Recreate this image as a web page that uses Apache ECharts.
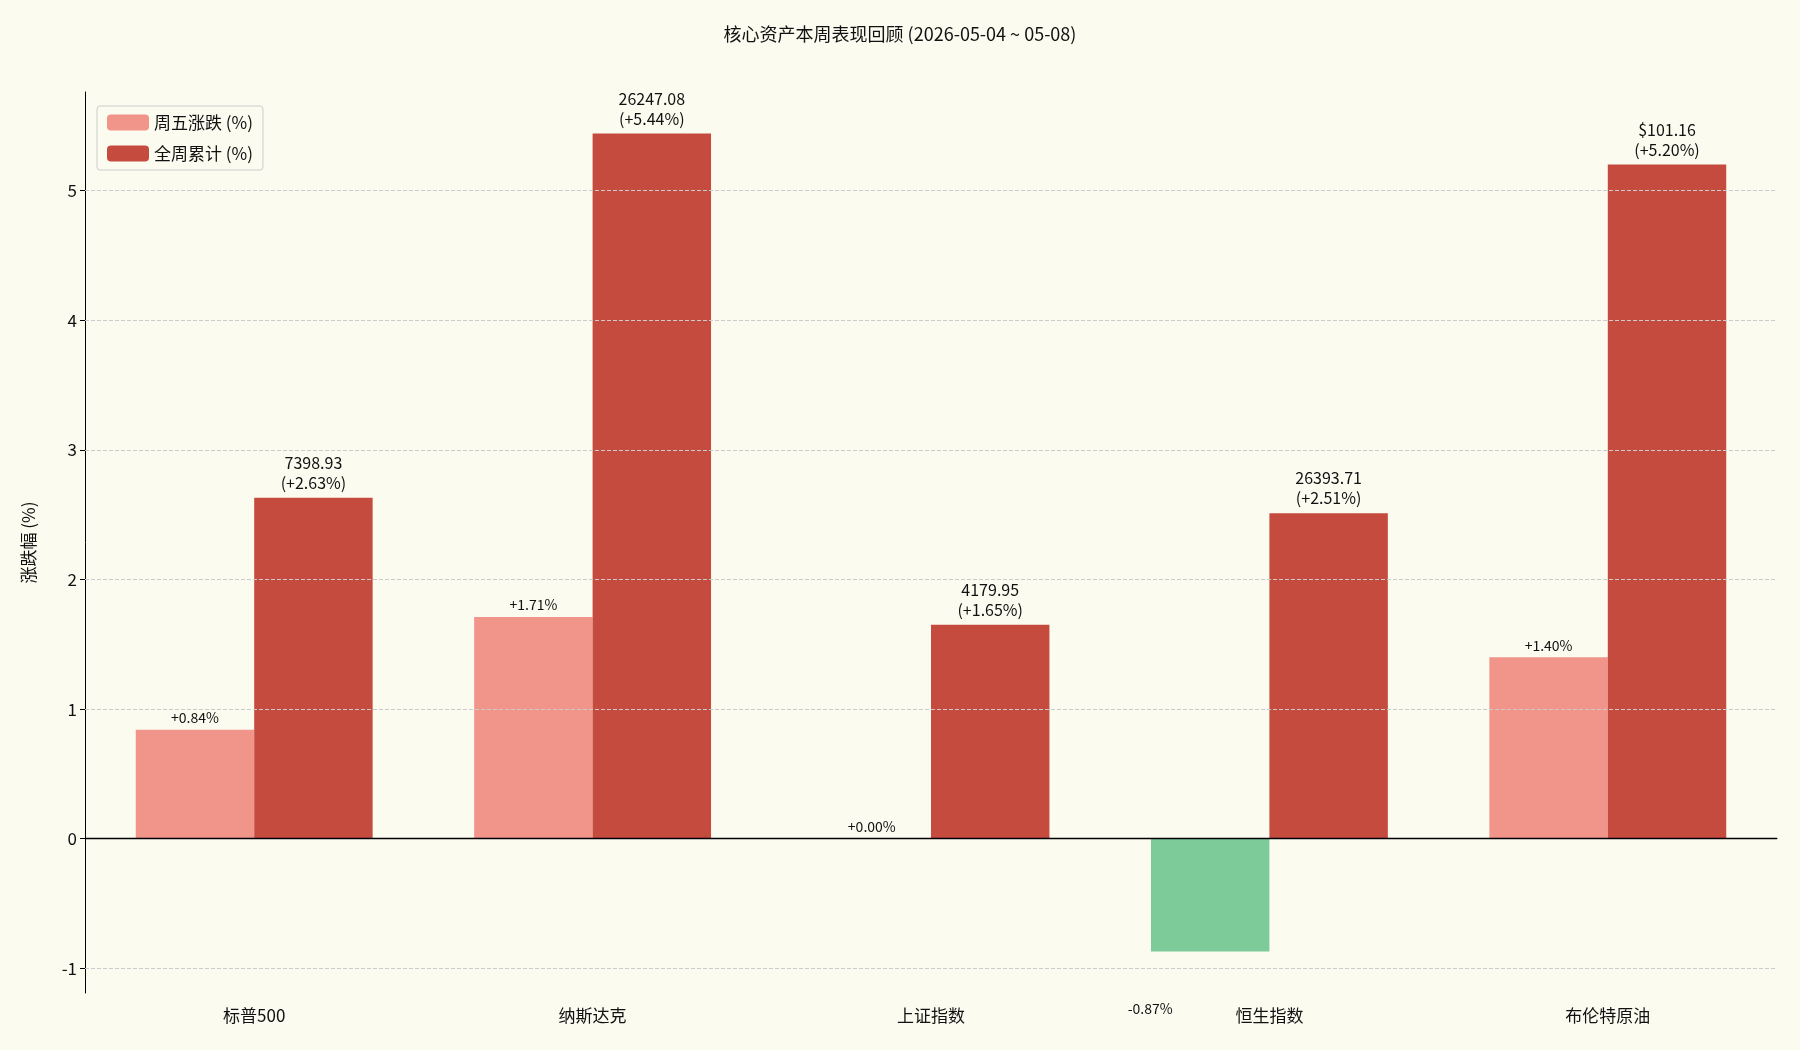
<!DOCTYPE html>
<html><head><meta charset="utf-8">
<script src="https://cdn.jsdelivr.net/npm/echarts@6/dist/echarts.min.js"></script>
<style>html,body{margin:0;background:#FCFBF0}#c{width:1800px;height:1050px}</style>
</head><body><div id="c"></div>
<script>
const categories = ['标普500','纳斯达克','上证指数','恒生指数','布伦特原油'];
const fridayChange = [0.84, 1.71, 0.00, -0.87, 1.40];
const weekChange = [2.63, 5.44, 1.65, 2.51, 5.20];
const closeLabels = ['7398.93','26247.08','4179.95','26393.71','$101.16'];
const yTicks = [-1,0,1,2,3,4,5];
const F = '"Noto Sans CJK SC", "Noto Sans", sans-serif';
const fmt = v => (v >= 0 ? '+' : '') + v.toFixed(2) + '%';
const chart = echarts.init(document.getElementById('c'));
chart.setOption({
  backgroundColor:'#FCFBF0',
  textStyle:{fontFamily:F},
  title:{text:'核心资产本周表现回顾 (2026-05-04 ~ 05-08)',left:'center',top:20,textStyle:{fontSize:18,fontWeight:'normal',color:'#111',fontFamily:F}},
  legend:{left:97,top:106,orient:'vertical',itemWidth:42,itemHeight:16,itemGap:14,borderColor:'#ccc',borderWidth:1,borderRadius:3,padding:[8,10],backgroundColor:'#FCFBF0',textStyle:{fontSize:17,color:'#111',fontFamily:F},data:['周五涨跌 (%)','全周累计 (%)']},
  grid:{left:85,right:23,top:92,bottom:57},
  xAxis:{type:'category',data:categories,axisLine:{lineStyle:{color:'#000'}},axisTick:{alignWithLabel:true,lineStyle:{color:'#000'}},axisLabel:{fontSize:17,color:'#111',margin:14}},
  yAxis:{type:'value',min:-1.19,max:5.76,name:'涨跌幅 (%)',nameLocation:'middle',nameGap:48,nameTextStyle:{fontSize:17,color:'#111'},
    axisLine:{show:true,lineStyle:{color:'#000'}},axisTick:{show:true,customValues:yTicks,lineStyle:{color:'#000'}},
    axisLabel:{customValues:yTicks,fontSize:17,color:'#111'},splitLine:{show:false}},
  series:[
    {name:'周五涨跌 (%)',type:'bar',barWidth:'35%',barGap:'0%',itemStyle:{color:'#F1948A'},
     data:fridayChange.map(v=>({value:v,itemStyle:{color:v<0?'#7DCB98':'#F1948A'},
       label:v<0?{position:'bottom',distance:50,offset:[-60,0]}:{}})),
     label:{show:true,position:'top',fontSize:14,color:'#111',formatter:p=>fmt(p.value)},
     markLine:{silent:true,symbol:'none',label:{show:false},data:yTicks.map(t=>({yAxis:t,lineStyle:{color:t===0?'#000':'#ccc',type:t===0?'solid':'dashed',width:t===0?1.3:1}}))}},
    {name:'全周累计 (%)',type:'bar',barWidth:'35%',barGap:'0%',itemStyle:{color:'#C64B3F'},data:weekChange,
     label:{show:true,position:'top',fontSize:16,color:'#111',lineHeight:20,formatter:p=>closeLabels[p.dataIndex]+'\n('+fmt(p.value)+')'}}
  ]
});
</script></body></html>
